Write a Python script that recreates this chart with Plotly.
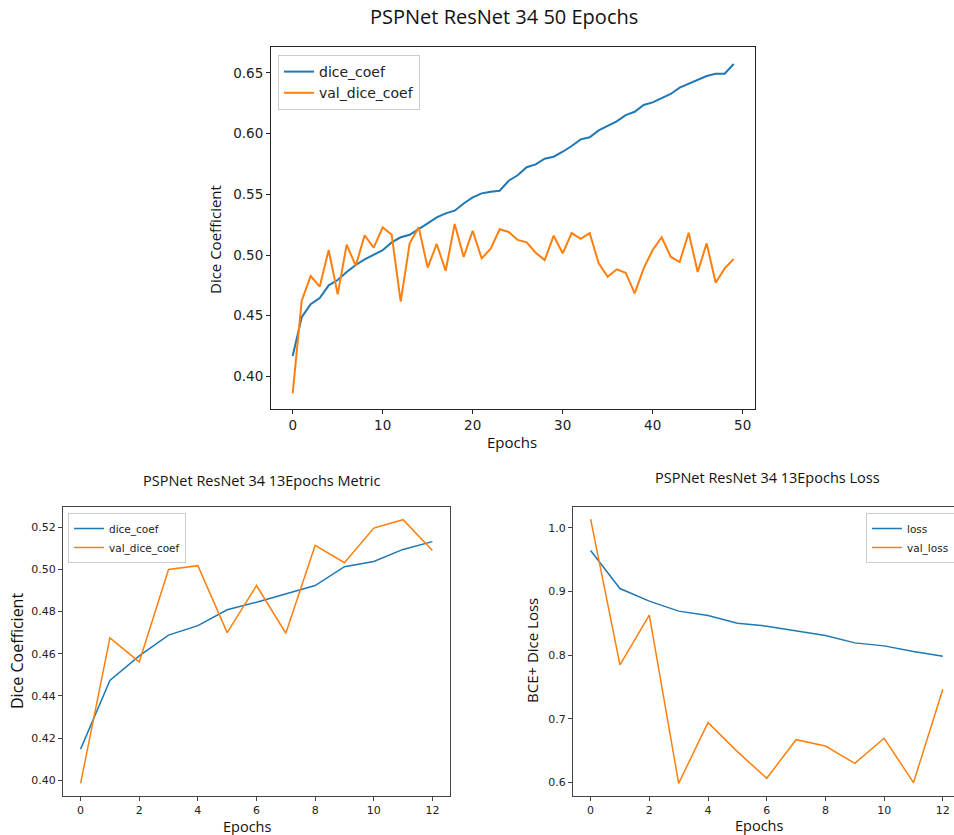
import plotly.graph_objects as go

W, H = 954, 835

# ---------------- data ----------------
epochs_50 = list(range(50))
dice_coef_50 = [0.4168, 0.4487, 0.4594, 0.4646, 0.4750, 0.4794, 0.4860, 0.4918, 0.4964, 0.5005,
                0.5040, 0.5104, 0.5146, 0.5167, 0.5212, 0.5261, 0.5310, 0.5343, 0.5365, 0.5425,
                0.5475, 0.5508, 0.5522, 0.5530, 0.5612, 0.5657, 0.5723, 0.5747, 0.5794, 0.5810,
                0.5851, 0.5898, 0.5953, 0.5970, 0.6027, 0.6063, 0.6101, 0.6153, 0.6180, 0.6236,
                0.6258, 0.6293, 0.6327, 0.6379, 0.6412, 0.6448, 0.6475, 0.6494, 0.6494, 0.6574]
val_dice_coef_50 = [0.3860, 0.4624, 0.4827, 0.4739, 0.5041, 0.4676, 0.5085, 0.4912, 0.5162, 0.5060,
                    0.5228, 0.5167, 0.4615, 0.5096, 0.5228, 0.4896, 0.5091, 0.4870, 0.5255, 0.4984,
                    0.5200, 0.4972, 0.5052, 0.5212, 0.5190, 0.5124, 0.5104, 0.5019, 0.4959, 0.5159,
                    0.5014, 0.5181, 0.5134, 0.5181, 0.4931, 0.4821, 0.4882, 0.4854, 0.4684, 0.4890,
                    0.5041, 0.5146, 0.4986, 0.4942, 0.5184, 0.4860, 0.5096, 0.4772, 0.4890, 0.4967]

epochs_13 = list(range(13))
dice_coef_13 = [0.4148, 0.4473, 0.4590, 0.4688, 0.4733, 0.4808, 0.4844, 0.4885, 0.4923, 0.5012,
                0.5037, 0.5094, 0.5131]
val_dice_coef_13 = [0.3986, 0.4675, 0.4561, 0.4999, 0.5017, 0.4700, 0.4923, 0.4697, 0.5113, 0.5031,
                    0.5195, 0.5235, 0.5089]

loss_13 = [0.9643, 0.9045, 0.8847, 0.8690, 0.8620, 0.8501, 0.8454, 0.8375, 0.8306, 0.8191,
           0.8144, 0.8054, 0.7982]
val_loss_13 = [1.0136, 0.7845, 0.8626, 0.5984, 0.6938, 0.6482, 0.6063, 0.6670, 0.6571, 0.6299,
               0.6692, 0.5994, 0.7463]

x_ticks_50 = [0, 10, 20, 30, 40, 50]
y_ticks_top = [0.40, 0.45, 0.50, 0.55, 0.60, 0.65]
x_ticks_13 = [0, 2, 4, 6, 8, 10, 12]
y_ticks_metric = [0.40, 0.42, 0.44, 0.46, 0.48, 0.50, 0.52]
y_ticks_loss = [0.6, 0.7, 0.8, 0.9, 1.0]

BLUE = "#1f77b4"
ORANGE = "#ff7f0e"
TICKFONT = "DejaVu Sans"
LABELFONT = "Open Sans"


def px(x):
    return x / W


def py(y):
    return 1 - y / H


fig = go.Figure()

# top chart
fig.add_trace(go.Scatter(x=epochs_50, y=dice_coef_50, mode="lines", name="dice_coef",
                         line=dict(color=BLUE, width=2), xaxis="x", yaxis="y", legend="legend"))
fig.add_trace(go.Scatter(x=epochs_50, y=val_dice_coef_50, mode="lines", name="val_dice_coef",
                         line=dict(color=ORANGE, width=2), xaxis="x", yaxis="y", legend="legend"))
# bottom-left
fig.add_trace(go.Scatter(x=epochs_13, y=dice_coef_13, mode="lines", name="dice_coef",
                         line=dict(color=BLUE, width=1.5), xaxis="x2", yaxis="y2", legend="legend2"))
fig.add_trace(go.Scatter(x=epochs_13, y=val_dice_coef_13, mode="lines", name="val_dice_coef",
                         line=dict(color=ORANGE, width=1.5), xaxis="x2", yaxis="y2", legend="legend2"))
# bottom-right
fig.add_trace(go.Scatter(x=epochs_13, y=loss_13, mode="lines", name="loss",
                         line=dict(color=BLUE, width=1.5), xaxis="x3", yaxis="y3", legend="legend3"))
fig.add_trace(go.Scatter(x=epochs_13, y=val_loss_13, mode="lines", name="val_loss",
                         line=dict(color=ORANGE, width=1.5), xaxis="x3", yaxis="y3", legend="legend3"))


def axis(domain, rng, tickvals, fmt, anchor, size, color, mirror=True):
    return dict(domain=domain, range=rng, tickvals=tickvals, tickformat=fmt, anchor=anchor,
                showgrid=False, zeroline=False, showline=True, linecolor=color, linewidth=1,
                mirror=mirror, ticks="outside", ticklen=4, tickwidth=1, tickcolor=color,
                tickfont=dict(family=TICKFONT, size=size, color="#222222"))


top_x = [px(271), px(755)]
top_y = [py(409), py(47)]
bl_x = [px(63), px(450)]
br_x = [px(573), 1.0]
bot_y = [py(796), py(507)]

fig.update_layout(
    width=W, height=H, margin=dict(l=0, r=0, t=0, b=0, autoexpand=False),
    paper_bgcolor="white", plot_bgcolor="white", showlegend=True,
    xaxis=axis(top_x, [-2.41, 51.37], x_ticks_50, "d", "y", 13.5, "#222222"),
    yaxis=axis(top_y, [0.3731, 0.6714], y_ticks_top, ".2f", "x", 13.5, "#222222"),
    xaxis2=axis(bl_x, [-0.6, 12.6], x_ticks_13, "d", "y2", 11, "#444444"),
    yaxis2=axis(bot_y, [0.3926, 0.5295], y_ticks_metric, ".2f", "x2", 11, "#444444"),
    xaxis3=axis(br_x, [-0.6, 12.38], x_ticks_13, "d", "y3", 11, "#444444"),
    yaxis3=axis(bot_y, [0.5785, 1.0326], y_ticks_loss, ".1f", "x3", 11, "#444444", mirror=False),
    legend=dict(x=px(278), y=py(55), xanchor="left", yanchor="top",
                bgcolor="white", bordercolor="#cccccc", borderwidth=1,
                font=dict(family=TICKFONT, size=14, color="#222222"),
                tracegroupgap=0, itemwidth=30),
    legend2=dict(x=px(68), y=py(513), xanchor="left", yanchor="top",
                 bgcolor="white", bordercolor="#cccccc", borderwidth=1,
                 font=dict(family=TICKFONT, size=10.5, color="#222222"),
                 tracegroupgap=0, itemwidth=30),
    legend3=dict(x=px(866), y=py(513), xanchor="left", yanchor="top",
                 bgcolor="white", bordercolor="#cccccc", borderwidth=1,
                 font=dict(family=TICKFONT, size=10.5, color="#222222"),
                 tracegroupgap=0, itemwidth=30),
)


def label(text, x, y, size, angle=0):
    fig.add_annotation(text=text, x=px(x), y=py(y), xref="paper", yref="paper",
                       showarrow=False, textangle=angle, xanchor="center", yanchor="middle",
                       borderpad=0,
                       font=dict(family=LABELFONT, size=size, color="#111111"))


label("PSPNet ResNet 34 50 Epochs", 504, 17, 20)
label("Epochs", 512, 442, 15)
label("Dice Coefficient", 215, 240, 15, -90)
label("PSPNet ResNet 34 13Epochs Metric", 261, 480, 14.5)
label("Epochs", 247, 826, 14.5)
label("Dice Coefficient", 17, 651, 16, -90)
label("PSPNet ResNet 34 13Epochs Loss", 767, 477, 14.5)
label("Epochs", 759, 825, 14.5)
label("BCE+ Dice Loss", 532, 651, 15, -90)

fig.write_html("out.html")
